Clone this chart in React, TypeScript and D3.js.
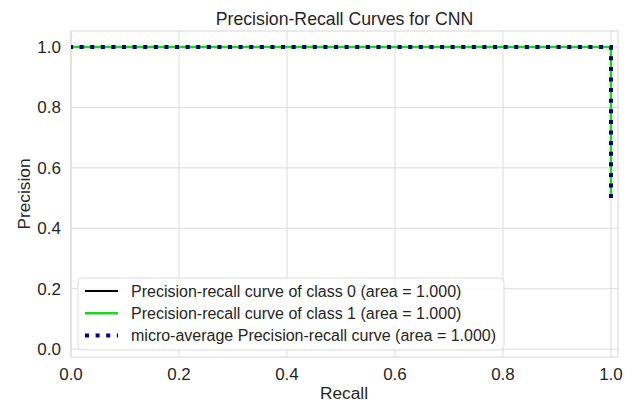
import { useEffect, useRef } from "react";
import * as d3 from "d3";

// PR curve points (recall, precision)
const recallClass0 = [1.0, 1.0, 0.0];
const precisionClass0 = [0.5, 1.0, 1.0];
const recallClass1 = [1.0, 1.0, 0.0];
const precisionClass1 = [0.5, 1.0, 1.0];
const recallMicro = [1.0, 1.0, 0.0];
const precisionMicro = [0.5, 1.0, 1.0];

const xTicks = [0.0, 0.2, 0.4, 0.6, 0.8, 1.0];
const yTicks = [0.0, 0.2, 0.4, 0.6, 0.8, 1.0];

const legendLabels = [
  "Precision-recall curve of class 0 (area = 1.000)",
  "Precision-recall curve of class 1 (area = 1.000)",
  "micro-average Precision-recall curve (area = 1.000)",
];

interface Pt {
  r: number;
  p: number;
}

const zip = (r: number[], p: number[]): Pt[] => r.map((v, i) => ({ r: v, p: p[i] }));

export default function App() {
  const svgRef = useRef<SVGSVGElement>(null);

  useEffect(() => {
    if (!svgRef.current) return;
    d3.select(svgRef.current).selectAll("*").remove();

    const width = 636;
    const height = 403;
    const margin = { top: 31, right: 18, bottom: 46, left: 71 };
    const font = "Liberation Sans, Arial, sans-serif";
    const textColor = "#262626";
    const gridColor = "#dcdcdc";

    const svg = d3
      .select(svgRef.current)
      .attr("width", width)
      .attr("height", height)
      .style("font-family", font);

    svg.append("rect").attr("width", width).attr("height", height).attr("fill", "white");

    const x = d3
      .scaleLinear()
      .domain([0, 1.013])
      .range([margin.left, width - margin.right]);
    const y = d3
      .scaleLinear()
      .domain([-0.026, 1.053])
      .range([height - margin.bottom, margin.top]);

    // grid
    svg
      .append("g")
      .selectAll("line")
      .data(xTicks)
      .enter()
      .append("line")
      .attr("x1", (d) => x(d))
      .attr("x2", (d) => x(d))
      .attr("y1", margin.top)
      .attr("y2", height - margin.bottom)
      .attr("stroke", gridColor)
      .attr("stroke-width", 1);

    svg
      .append("g")
      .selectAll("line")
      .data(yTicks)
      .enter()
      .append("line")
      .attr("y1", (d) => y(d))
      .attr("y2", (d) => y(d))
      .attr("x1", margin.left)
      .attr("x2", width - margin.right)
      .attr("stroke", gridColor)
      .attr("stroke-width", 1);

    // frame
    svg
      .append("rect")
      .attr("x", margin.left)
      .attr("y", margin.top)
      .attr("width", width - margin.left - margin.right)
      .attr("height", height - margin.top - margin.bottom)
      .attr("fill", "none")
      .attr("stroke", gridColor)
      .attr("stroke-width", 1.2);

    // tick labels
    svg
      .append("g")
      .selectAll("text")
      .data(xTicks)
      .enter()
      .append("text")
      .attr("x", (d) => x(d))
      .attr("y", 380)
      .attr("text-anchor", "middle")
      .attr("font-size", "17px")
      .attr("fill", textColor)
      .text((d) => d.toFixed(1));

    svg
      .append("g")
      .selectAll("text")
      .data(yTicks)
      .enter()
      .append("text")
      .attr("x", margin.left - 10)
      .attr("y", (d) => y(d))
      .attr("dy", "0.35em")
      .attr("text-anchor", "end")
      .attr("font-size", "17px")
      .attr("fill", textColor)
      .text((d) => d.toFixed(1));

    // axis labels & title
    svg
      .append("text")
      .attr("x", 344)
      .attr("y", 399)
      .attr("text-anchor", "middle")
      .attr("font-size", "17.3px")
      .attr("fill", textColor)
      .text("Recall");

    svg
      .append("text")
      .attr("transform", `translate(30,${(margin.top + height - margin.bottom) / 2}) rotate(-90)`)
      .attr("text-anchor", "middle")
      .attr("font-size", "17.3px")
      .attr("fill", textColor)
      .text("Precision");

    svg
      .append("text")
      .attr("x", 344.5)
      .attr("y", 25)
      .attr("text-anchor", "middle")
      .attr("font-size", "17.7px")
      .attr("fill", textColor)
      .text("Precision-Recall Curves for CNN");

    // curves
    const line = d3
      .line<Pt>()
      .x((d) => x(d.r))
      .y((d) => y(d.p))
      .curve(d3.curveLinear);

    const series = [
      { data: zip(recallClass0, precisionClass0), color: "#000000", w: 2, dash: null },
      { data: zip(recallClass1, precisionClass1), color: "#1ed41e", w: 2.4, dash: null },
      { data: zip(recallMicro, precisionMicro), color: "#000080", w: 4, dash: "4,6.6" },
    ];

    svg
      .append("g")
      .selectAll("path")
      .data(series)
      .enter()
      .append("path")
      .attr("d", (d) => line(d.data))
      .attr("fill", "none")
      .attr("stroke", (d) => d.color)
      .attr("stroke-width", (d) => d.w)
      .attr("stroke-dasharray", (d) => d.dash);

    // legend
    const legend = svg.append("g").attr("transform", "translate(78,278)");
    legend
      .append("rect")
      .attr("width", 426)
      .attr("height", 72)
      .attr("rx", 4)
      .attr("fill", "white")
      .attr("fill-opacity", 0.85)
      .attr("stroke", gridColor)
      .attr("stroke-width", 1);

    const items = legend
      .selectAll("g.item")
      .data(series)
      .enter()
      .append("g")
      .attr("class", "item")
      .attr("transform", (d, i) => `translate(0,${13 + i * 22.3})`);

    items
      .append("line")
      .attr("x1", 7)
      .attr("x2", 40)
      .attr("y1", 0)
      .attr("y2", 0)
      .attr("stroke", (d) => d.color)
      .attr("stroke-width", (d) => d.w)
      .attr("stroke-dasharray", (d) => d.dash);

    items
      .append("text")
      .attr("x", 53)
      .attr("y", 0)
      .attr("dy", "0.35em")
      .attr("font-size", "16px")
      .attr("fill", textColor)
      .text((d, i) => legendLabels[i]);
  }, []);

  return (
    <div style={{ position: "absolute", left: 0, top: 0 }}>
      <svg ref={svgRef}></svg>
    </div>
  );
}
